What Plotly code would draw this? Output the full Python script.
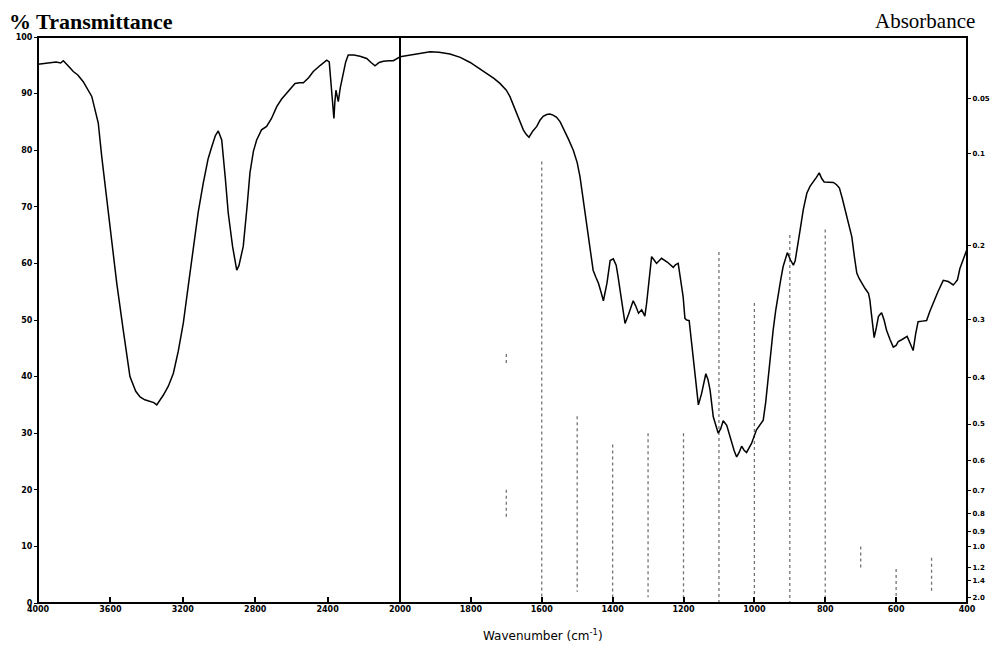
import plotly.graph_objects as go

# ---- data ----
wn_left = [4000, 3940, 3900, 3875, 3860, 3830, 3805, 3780, 3750, 3703, 3667, 3648, 3620, 3593,
           3565, 3529, 3492, 3460, 3436, 3410, 3381, 3360, 3344, 3330, 3308, 3280, 3252, 3225,
           3197, 3170, 3142, 3115, 3087, 3060, 3040, 3020, 3004, 2985, 2965, 2949, 2925, 2910,
           2902, 2890, 2866, 2845, 2829, 2810, 2792, 2765, 2737, 2710, 2681, 2655, 2626, 2600,
           2580, 2555, 2534, 2505, 2479, 2440, 2405, 2391, 2384, 2377, 2370, 2365, 2360, 2354,
           2347, 2341, 2330, 2313, 2300, 2286, 2255, 2221, 2200, 2184, 2160, 2138, 2115, 2092,
           2060, 2037, 2000]
t_left = [95.2, 95.5, 95.6, 95.4, 95.8, 94.8, 93.9, 93.3, 92.1, 89.5, 84.8, 78.9, 71.2, 64.1,
          56.5, 48.2, 40.0, 37.4, 36.4, 35.9, 35.6, 35.4, 35.0, 35.6, 36.7, 38.3, 40.6, 44.5,
          49.5, 56.0, 63.0, 69.0, 74.2, 78.5, 80.6, 82.6, 83.4, 81.8, 75.0, 68.9, 63.0, 60.0,
          58.8, 59.6, 63.0, 70.0, 76.0, 79.8, 81.8, 83.6, 84.2, 85.6, 87.7, 89.0, 90.1, 91.2,
          91.8, 91.9, 91.9, 92.8, 93.9, 95.0, 95.9, 95.6, 93.0, 90.6, 87.5, 85.6, 88.5, 90.6,
          89.5, 88.6, 91.0, 93.6, 95.6, 96.8, 96.8, 96.6, 96.4, 96.2, 95.5, 94.9, 95.5, 95.7,
          95.8, 95.8, 96.5]

wn_right = [2000, 1972, 1940, 1915, 1890, 1859, 1830, 1802, 1780, 1755, 1735, 1718, 1700, 1690,
            1680, 1671, 1660, 1652, 1644, 1636, 1625, 1614, 1605, 1596, 1586, 1577, 1568, 1558,
            1548, 1539, 1525, 1511, 1500, 1492, 1485, 1478, 1470, 1464, 1455, 1447, 1440, 1433,
            1426, 1416, 1407, 1398, 1390, 1385, 1379, 1372, 1365, 1355, 1342, 1335, 1327, 1318,
            1309, 1304, 1299, 1290, 1283, 1276, 1262, 1245, 1229, 1222, 1215, 1208, 1201, 1196,
            1191, 1184, 1173, 1165, 1158, 1149, 1143, 1137, 1131, 1125, 1116, 1109, 1102, 1095,
            1088, 1078, 1071, 1064, 1057, 1050, 1043, 1036, 1029, 1022, 1015, 1008, 994, 985,
            975, 968, 961, 954, 947, 940, 933, 926, 919, 913, 907, 898, 890, 885, 881, 876, 871,
            862, 852, 843, 833, 825, 817, 810, 803, 790, 777, 768, 760, 752, 744, 735, 725, 718,
            711, 704, 697, 688, 678, 674, 671, 666, 662, 656, 650, 645, 641, 634, 627, 617, 608,
            600, 594, 582, 569, 560, 552, 545, 538, 526, 514, 505, 496, 482, 467, 460, 453, 446,
            439, 433, 427, 420, 412, 403, 400]
t_right = [96.5, 96.8, 97.2, 97.4, 97.3, 97.0, 96.4, 95.5, 94.6, 93.6, 92.7, 91.8, 90.6, 89.5,
           88.0, 86.5, 85.0, 83.6, 82.8, 82.3, 83.4, 84.2, 85.3, 86.0, 86.3, 86.4, 86.2, 85.8,
           85.0, 83.9, 82.0, 80.0, 77.8, 75.3, 72.0, 68.9, 65.5, 63.0, 58.8, 57.5, 56.5, 55.0,
           53.4, 56.5, 60.5, 60.8, 59.7, 57.8, 55.3, 52.0, 49.4, 51.0, 53.4, 52.5, 51.2, 51.8,
           50.7, 53.0, 55.9, 61.2, 60.6, 60.0, 60.9, 60.2, 59.3, 59.8, 60.0, 57.0, 54.1, 50.3,
           50.0, 49.9, 43.5, 38.5, 35.0, 37.0, 38.9, 40.5, 39.5, 37.6, 32.9, 31.3, 30.0, 30.8,
           32.2, 31.4, 29.8, 28.2, 26.9, 25.8, 26.6, 27.7, 27.0, 26.6, 27.3, 28.2, 30.6, 31.5,
           32.3, 35.5, 40.0, 44.2, 48.2, 51.6, 54.7, 57.0, 59.4, 60.8, 61.9, 60.6, 59.7, 60.4,
           61.8, 64.0, 65.9, 69.5, 72.4, 73.6, 74.4, 75.2, 76.0, 75.0, 74.4, 74.4, 74.3, 73.9,
           73.3, 71.5, 69.4, 67.0, 64.7, 61.3, 58.3, 57.3, 56.5, 55.6, 54.7, 53.5, 51.8, 49.0,
           46.9, 48.6, 50.6, 51.0, 51.3, 50.0, 48.2, 46.5, 45.2, 45.5, 46.2, 46.6, 47.1, 45.8,
           44.6, 47.5, 49.7, 49.8, 49.9, 51.5, 53.0, 55.0, 57.0, 56.9, 56.8, 56.5, 56.2, 56.6,
           57.1, 59.1, 60.5, 62.1, 62.5]

# faint dotted remnants of the chart-paper grid (wavenumber, top %T, bottom %T)
grid_wn = [1700, 1700, 1600, 1500, 1400, 1300, 1200, 1100, 1000, 900, 800, 700, 600, 500]
grid_top = [44, 20, 78, 33, 28, 30, 30, 62, 53, 65, 66, 10, 6, 8]
grid_bottom = [42, 15, 0, 2, 0, 1, 0, 0, 0, 0, 0, 6, 1, 2]

left_ticks = [4000, 3600, 3200, 2800, 2400, 2000]
right_ticks = [1800, 1600, 1400, 1200, 1000, 800, 600, 400]
t_ticks = [0, 10, 20, 30, 40, 50, 60, 70, 80, 90, 100]
abs_vals = [0.05, 0.1, 0.2, 0.3, 0.4, 0.5, 0.6, 0.7, 0.8, 0.9, 1.0, 1.2, 1.4, 2.0]
abs_labels = ["0.05", "0.1", "0.2", "0.3", "0.4", "0.5", "0.6", "0.7", "0.8", "0.9", "1.0",
              "1.2", "1.4", "2.0"]
abs_pos = [100 * 10 ** (-a) for a in abs_vals]

# page has an 8px body margin: figure is 992x637 placed at (8, 8)
W, H = 992, 637
X0, XM, X1 = 30 / W, 392 / W, 959 / W
tickfont = dict(family="DejaVu Sans", size=8, color="black", weight="bold")

gx, gy = [], []
for w, a, b in zip(grid_wn, grid_top, grid_bottom):
    gx += [w, w, None]
    gy += [a, b, None]

fig = go.Figure()
fig.add_trace(go.Scatter(x=gx, y=gy, xaxis="x2", yaxis="y", mode="lines",
                         line=dict(color="rgba(0,0,0,0.55)", width=1.3, dash="dot"),
                         showlegend=False, hoverinfo="skip"))
fig.add_trace(go.Scatter(x=wn_left, y=t_left, xaxis="x", yaxis="y", mode="lines",
                         line=dict(color="black", width=1.5), showlegend=False))
fig.add_trace(go.Scatter(x=wn_right, y=t_right, xaxis="x2", yaxis="y", mode="lines",
                         line=dict(color="black", width=1.5), showlegend=False))
fig.add_trace(go.Scatter(x=[1000], y=[50], xaxis="x2", yaxis="y2", mode="markers",
                         marker=dict(opacity=0), showlegend=False, hoverinfo="skip"))

fig.update_layout(
    width=W, height=H,
    margin=dict(l=0, r=0, t=29, b=42, autoexpand=False),
    paper_bgcolor="white", plot_bgcolor="white",
    xaxis=dict(domain=[X0, XM], range=[4000, 2000], tickvals=left_ticks,
               ticks="inside", ticklen=6, tickwidth=2, tickcolor="black",
               showgrid=False, zeroline=False, tickfont=tickfont, anchor="y",
               showline=False, automargin=False),
    xaxis2=dict(domain=[XM, X1], range=[2000, 400], tickvals=right_ticks,
                ticks="inside", ticklen=6, tickwidth=2, tickcolor="black",
                showgrid=False, zeroline=False, tickfont=tickfont, anchor="y",
                showline=False, automargin=False),
    yaxis=dict(domain=[0, 1], range=[0, 100], tickvals=t_ticks, ticks="outside",
               ticklen=3, tickwidth=1, tickcolor="black", showgrid=False,
               zeroline=False, tickfont=tickfont, anchor="x", showline=False,
               automargin=False),
    yaxis2=dict(domain=[0, 1], range=[0, 100], tickvals=abs_pos, ticktext=abs_labels,
                overlaying="y", side="right", anchor="x2", ticks="outside",
                ticklen=3, tickwidth=1, tickcolor="black", showgrid=False,
                zeroline=False, automargin=False,
                tickfont=dict(family="DejaVu Sans", size=7, color="black", weight="bold"),
                showline=False),
)

# frame and divider
fig.add_shape(type="rect", xref="paper", yref="paper", x0=X0, x1=X1, y0=0, y1=1,
              line=dict(color="black", width=2))
fig.add_shape(type="line", xref="paper", yref="paper", x0=XM, x1=XM, y0=0, y1=1,
              line=dict(color="black", width=2))

fig.add_annotation(text="<b>% Transmittance</b>", xref="paper", yref="paper",
                   x=0.0, y=1.0, yshift=29, xanchor="left", yanchor="top",
                   borderpad=0, showarrow=False,
                   font=dict(family="Liberation Serif", size=22, color="black"))
fig.add_annotation(text="Absorbance", xref="paper", yref="paper",
                   x=968 / W, y=1.0, yshift=29, xanchor="right", yanchor="top",
                   borderpad=0, showarrow=False,
                   font=dict(family="Liberation Serif", size=21, color="black"))
fig.add_annotation(text="Wavenumber (cm<sup>-1</sup>)", xref="paper", yref="paper",
                   x=535 / W, y=0, yshift=-32, xanchor="center", yanchor="middle",
                   showarrow=False, font=dict(family="DejaVu Sans", size=12, color="black"))

fig.write_html("out.html")
